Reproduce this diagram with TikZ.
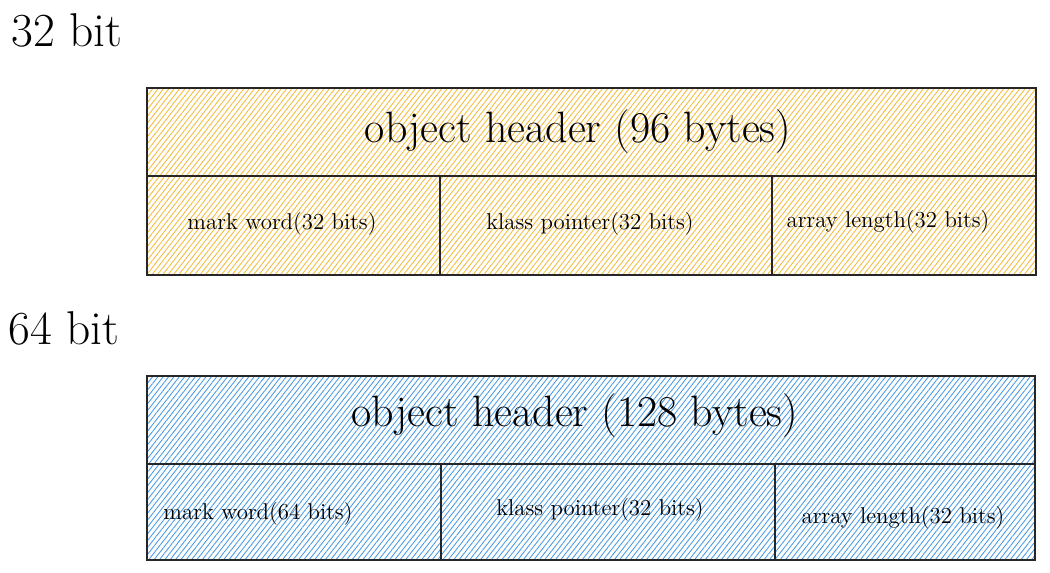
\documentclass[tikz,border=0pt]{standalone}
\usetikzlibrary{patterns.meta}
\definecolor{hatchyellow}{HTML}{F4BC3C}
\definecolor{hatchblue}{HTML}{4A9BE6}

\begin{document}
\begin{tikzpicture}[x=0.02cm,y=-0.02cm]
\tikzset{
	% hatched boxes
	yellowbox/.style={
		draw=black!85, line width=0.8pt,
		pattern={Lines[angle=52,distance=2.4pt,line width=0.5pt]},
		pattern color=hatchyellow},
	bluebox/.style={
		draw=black!85, line width=0.8pt,
		pattern={Lines[angle=52,distance=2.4pt,line width=0.5pt]},
		pattern color=hatchblue},
	% separators inside a box
	rule/.style={draw=black!85, line width=0.7pt},
	% texts
	title/.style={font=\fontsize{27}{30}\selectfont},
	big/.style={font=\fontsize{25}{28}\selectfont},
	small/.style={font=\fontsize{13}{15}\selectfont}
}
\useasboundingbox (0,0) rectangle (1050,572);

%32 bit layout
\node[title] (t32) at (67,30) {32 bit};
\draw[yellowbox] (147,88) rectangle (1036,275);
\draw[rule] (147,176) -- (1036,176);
\draw[rule] (440,176) -- (440,275);
\draw[rule] (772,176) -- (772,275);
\node[big] (hdr32) at (578,132) {object header (96 bytes)};
\node[small] (mark32) at (282,224) {mark word(32 bits)};
\node[small] (klass32) at (590,224) {klass pointer(32 bits)};
\node[small] (len32) at (888,222) {array length(32 bits)};

%64 bit layout
\node[title] (t64) at (64,328) {64 bit};
\draw[bluebox] (147,376) rectangle (1035,560);
\draw[rule] (147,464) -- (1035,464);
\draw[rule] (441,464) -- (441,560);
\draw[rule] (775,464) -- (775,560);
\node[big] (hdr64) at (575,416) {object header (128 bytes)};
\node[small] (mark64) at (258,514) {mark word(64 bits)};
\node[small] (klass64) at (600,510) {klass pointer(32 bits)};
\node[small] (len64) at (903,518) {array length(32 bits)};

\end{tikzpicture}
\end{document}
